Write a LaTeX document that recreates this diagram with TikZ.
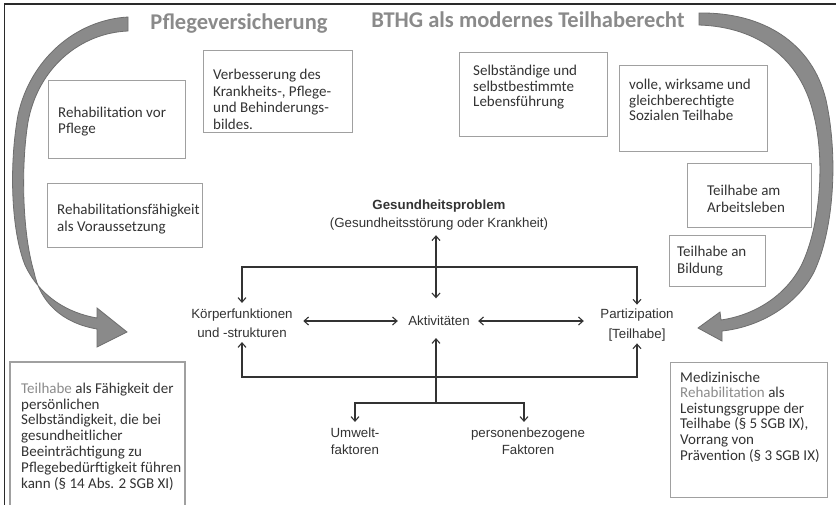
\documentclass[tikz,border=0pt]{standalone}
\usepackage{fontspec}
\setmainfont{Carlito}
\newfontfamily\arialf{Liberation Sans}
\usetikzlibrary{arrows.meta}
\definecolor{boxline}{HTML}{A0A0A0}
\definecolor{txt}{HTML}{333333}
\definecolor{ttl}{HTML}{8A8A8A}
\definecolor{bigfill}{HTML}{8A8A8A}
\definecolor{bigline}{HTML}{6E6E6E}
\definecolor{icf}{HTML}{333333}
\definecolor{hl}{HTML}{8C8C8C}
\definecolor{frame}{HTML}{2A2A2A}
\newcommand\bxfont[1]{\fontsize{15}{#1}\selectfont}
\newcommand\icffont[1]{\arialf\fontsize{13.3}{#1}\selectfont}
\begin{document}
\begin{tikzpicture}[x=1pt,y=-1pt,
  >={Straight Barb[length=4.5pt,width=8pt]},
  boxframe/.style={draw=boxline, line width=1.4pt, inner sep=0pt, anchor=north west},
  boxtext/.style={anchor=west, inner sep=0pt, align=left, text=txt},
  titletext/.style={anchor=base, inner sep=0pt, text=ttl, font=\fontsize{22.5}{27}\selectfont\bfseries},
  icftext/.style={inner sep=2pt, align=center, text=icf},
  icfline/.style={draw=icf, line width=1.1pt},
  bigarrow/.style={fill=bigfill, draw=bigline, line width=0.8pt, line join=miter}
]
\useasboundingbox (0,0) rectangle (836,504);
\fill[white] (0,0) rectangle (836,504);
% frame
\draw[frame, line width=1.2pt] (4.5,505) -- (4.5,4) -- (837,4);

% big curved arrows
\filldraw[bigarrow] (128,17) .. controls (75,20) and (30,60) .. (18,115)
  .. controls (9,165) and (11,230) .. (25,265)
  .. controls (40,297) and (68,313) .. (97,318)
  -- (97,308) -- (127,332) -- (97,347) -- (97,329)
  .. controls (62,323) and (40,302) .. (34,272)
  .. controls (22,232) and (21,165) .. (28,122)
  .. controls (38,68) and (80,33) .. (128,31) -- cycle;
\filldraw[bigarrow] (699,13) .. controls (762,12) and (812,42) .. (826,100)
  .. controls (839,160) and (833,232) .. (814,272)
  .. controls (797,305) and (760,327) .. (722,331)
  -- (722,341) -- (698,328) -- (720,312) -- (721,320)
  .. controls (755,315) and (785,296) .. (801,266)
  .. controls (820,228) and (826,160) .. (813,112)
  .. controls (800,60) and (760,27) .. (699,25) -- cycle;

% titles
\node[titletext] (tl) at (239,29) {Pflegeversicherung};
\node[titletext] (tr) at (528,27) {BTHG als modernes Teilhaberecht};

% boxes
\node[boxframe, minimum width=137pt, minimum height=78pt] (b1) at (48,80) {};
\node[boxframe, minimum width=149pt, minimum height=82pt] (b2) at (203,50) {};
\node[boxframe, minimum width=155pt, minimum height=64pt] (b3) at (47,183) {};
\node[boxframe, minimum width=148pt, minimum height=84pt] (b4) at (459,52) {};
\node[boxframe, minimum width=148pt, minimum height=86pt] (b5) at (619,65) {};
\node[boxframe, minimum width=124pt, minimum height=64pt] (b6) at (687,163) {};
\node[boxframe, minimum width=96pt, minimum height=51pt] (b7) at (669,235) {};
\node[boxframe, minimum width=157pt, minimum height=135pt] (b9) at (670,362) {};
\draw[draw=boxline, line width=1.4pt] (10,506) |- (185,362) -- (185,506);

% box texts
\node[boxtext, font=\bxfont{16.7}] (t1) at (58,121.5) {Rehabilitation vor\\Pflege};
\node[boxtext, font=\bxfont{16.5}] (t2) at (213,99.5) {Verbesserung des\\Krankheits-, Pflege-\\und Behinderungs-\\bildes.};
\node[boxtext, font=\bxfont{17}] (t3) at (57,219) {Rehabilitationsfähigkeit\\als Voraussetzung};
\node[boxtext, font=\bxfont{15.5}] (t4) at (473,87.5) {Selbständige und\\selbstbestimmte\\Lebensführung};
\node[boxtext, font=\bxfont{15.5}] (t5) at (629,100) {volle, wirksame und\\gleichberechtigte\\Sozialen Teilhabe};
\node[boxtext, font=\bxfont{16.7}] (t6) at (707,198.5) {Teilhabe am\\Arbeitsleben};
\node[boxtext, font=\bxfont{16.6}] (t7) at (677,261) {Teilhabe an\\Bildung};
\node[boxtext, font=\bxfont{15.8}] (t8) at (21,436.5) {\textcolor{hl}{Teilhabe} als Fähigkeit der\\persönlichen\\Selbständigkeit, die bei\\gesundheitlicher\\Beeinträchtigung zu\\Pflegebedürftigkeit führen\\kann (§ 14 Abs. 2 SGB XI)};
\node[boxtext, font=\bxfont{15.6}] (t9) at (680,417) {Medizinische\\\textcolor{hl}{Rehabilitation} als\\Leistungsgruppe der\\Teilhabe (§ 5 SGB IX),\\Vorrang von\\Prävention (§ 3 SGB IX)};

% ICF diagram
\node[icftext, font=\icffont{18}] (gp) at (439,215.4) {\textbf{Gesundheitsproblem}\\(Gesundheitsstörung oder Krankheit)};
\node[icftext, font=\icffont{19}] (kf) at (242,323.5) {Körperfunktionen\\und -strukturen};
\node[icftext, font=\icffont{13}] (akt) at (439,321) {Aktivitäten};
\node[icftext, font=\icffont{20}] (pt) at (637,325) {Partizipation\\{}{[Teilhabe]}};
\node[icftext, font=\icffont{17}] (uw) at (355,441.5) {Umwelt-\\faktoren};
\node[icftext, font=\icffont{17}] (pb) at (528,441.5) {personenbezogene\\Faktoren};

\coordinate (jt) at (436,267);
\coordinate (jb) at (436,377);
\coordinate (jm) at (436,403);

\draw[icfline,<->,shorten <=2.4pt,shorten >=15.6pt] ([xshift=-3pt]gp.south) -- ([xshift=-3pt]gp.south |- akt.north);
\draw[icfline,->,shorten >=4pt] (jt) -| (kf.north);
\draw[icfline,->,shorten >=2pt] (jt) -| (pt.north);
\draw[icfline,<->,shorten <=8.4pt,shorten >=8.3pt] (kf.east |- akt.west) -- (akt.west);
\draw[icfline,<->,shorten <=6.3pt,shorten >=14.4pt] (akt.east) -- (pt.west |- akt.east);
\draw[icfline,->,shorten >=2pt] (jb) -| (kf.south);
\draw[icfline,->] (jb) -| (pt.south);
\draw[icfline,->,shorten >=10pt] (jm) -- (jm |- akt.south);
\draw[icfline,->,shorten >=4pt] (jm) -| (uw.north);
\draw[icfline,->,shorten >=4pt] (jm) -| ([xshift=-4pt]pb.north);
\end{tikzpicture}
\end{document}
